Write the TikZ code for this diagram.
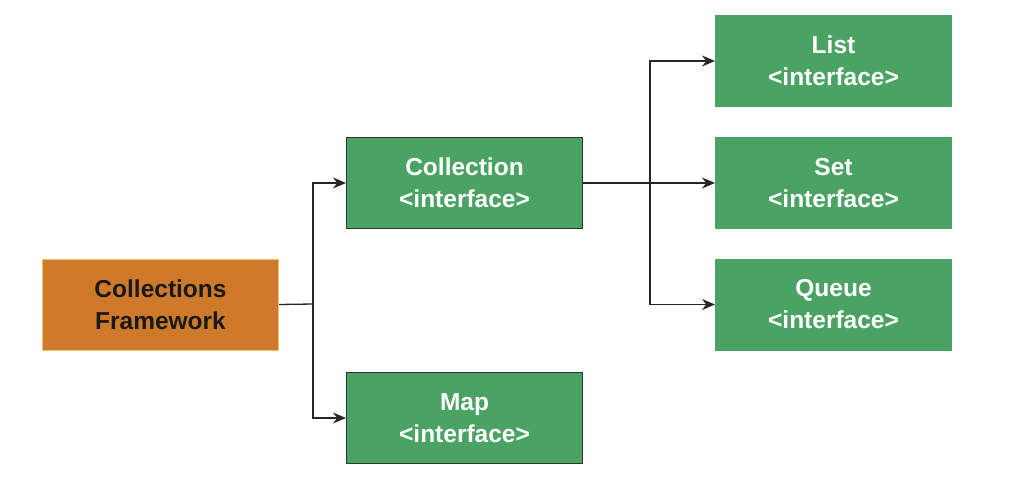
\documentclass[tikz,border=0pt]{standalone}
\usepackage{fontspec}
\setmainfont{Liberation Sans}
\usetikzlibrary{arrows.meta}
\definecolor{boxgreen}{HTML}{4AA363}
\definecolor{boxorange}{HTML}{CF7A2B}
\definecolor{orangeedge}{HTML}{F2C46A}
\begin{document}
\begin{tikzpicture}[x=1pt,y=-1pt,
  gbox/.style={rectangle, fill=boxgreen, draw=#1, line width=1pt, minimum width=236pt, minimum height=91pt, inner sep=0pt,
    text=white, font=\fontsize{24.5}{32}\selectfont\bfseries, align=center, anchor=north west},
  gbox/.default={black!80},
  obox/.style={rectangle, fill=boxorange, draw=orangeedge, line width=1pt, minimum width=236pt, minimum height=91pt, inner sep=0pt,
    text=black!90, font=\fontsize{24.5}{32}\selectfont\bfseries, align=center, anchor=north west},
  conn/.style={draw=black!85, line width=1.3pt},
  arr/.style={conn, -{Stealth[length=13pt,width=11pt]}}]
\useasboundingbox (0,0) rectangle (1014,498);
\node[obox] (cf) at (42,258.5) {Collections\\Framework};
\node[gbox] (coll) at (346,137) {Collection\\<interface>};
\node[gbox] (map) at (346,372) {Map\\<interface>};
\node[gbox=boxgreen] (list) at (715,15) {List\\<interface>};
\node[gbox=boxgreen] (set) at (715,137) {Set\\<interface>};
\node[gbox=boxgreen] (queue) at (715,258.5) {Queue\\<interface>};
\coordinate (j1) at (313,304);
\coordinate (j2) at (650,182.5);
\draw[conn] (cf.east) -- (j1);
\draw[arr] (j1) |- (coll.west);
\draw[arr] (j1) |- (map.west);
\draw[arr] (coll.east) -- (set.west);
\draw[arr] (j2) |- (list.west);
\draw[arr] (j2) |- (queue.west);
\end{tikzpicture}
\end{document}
